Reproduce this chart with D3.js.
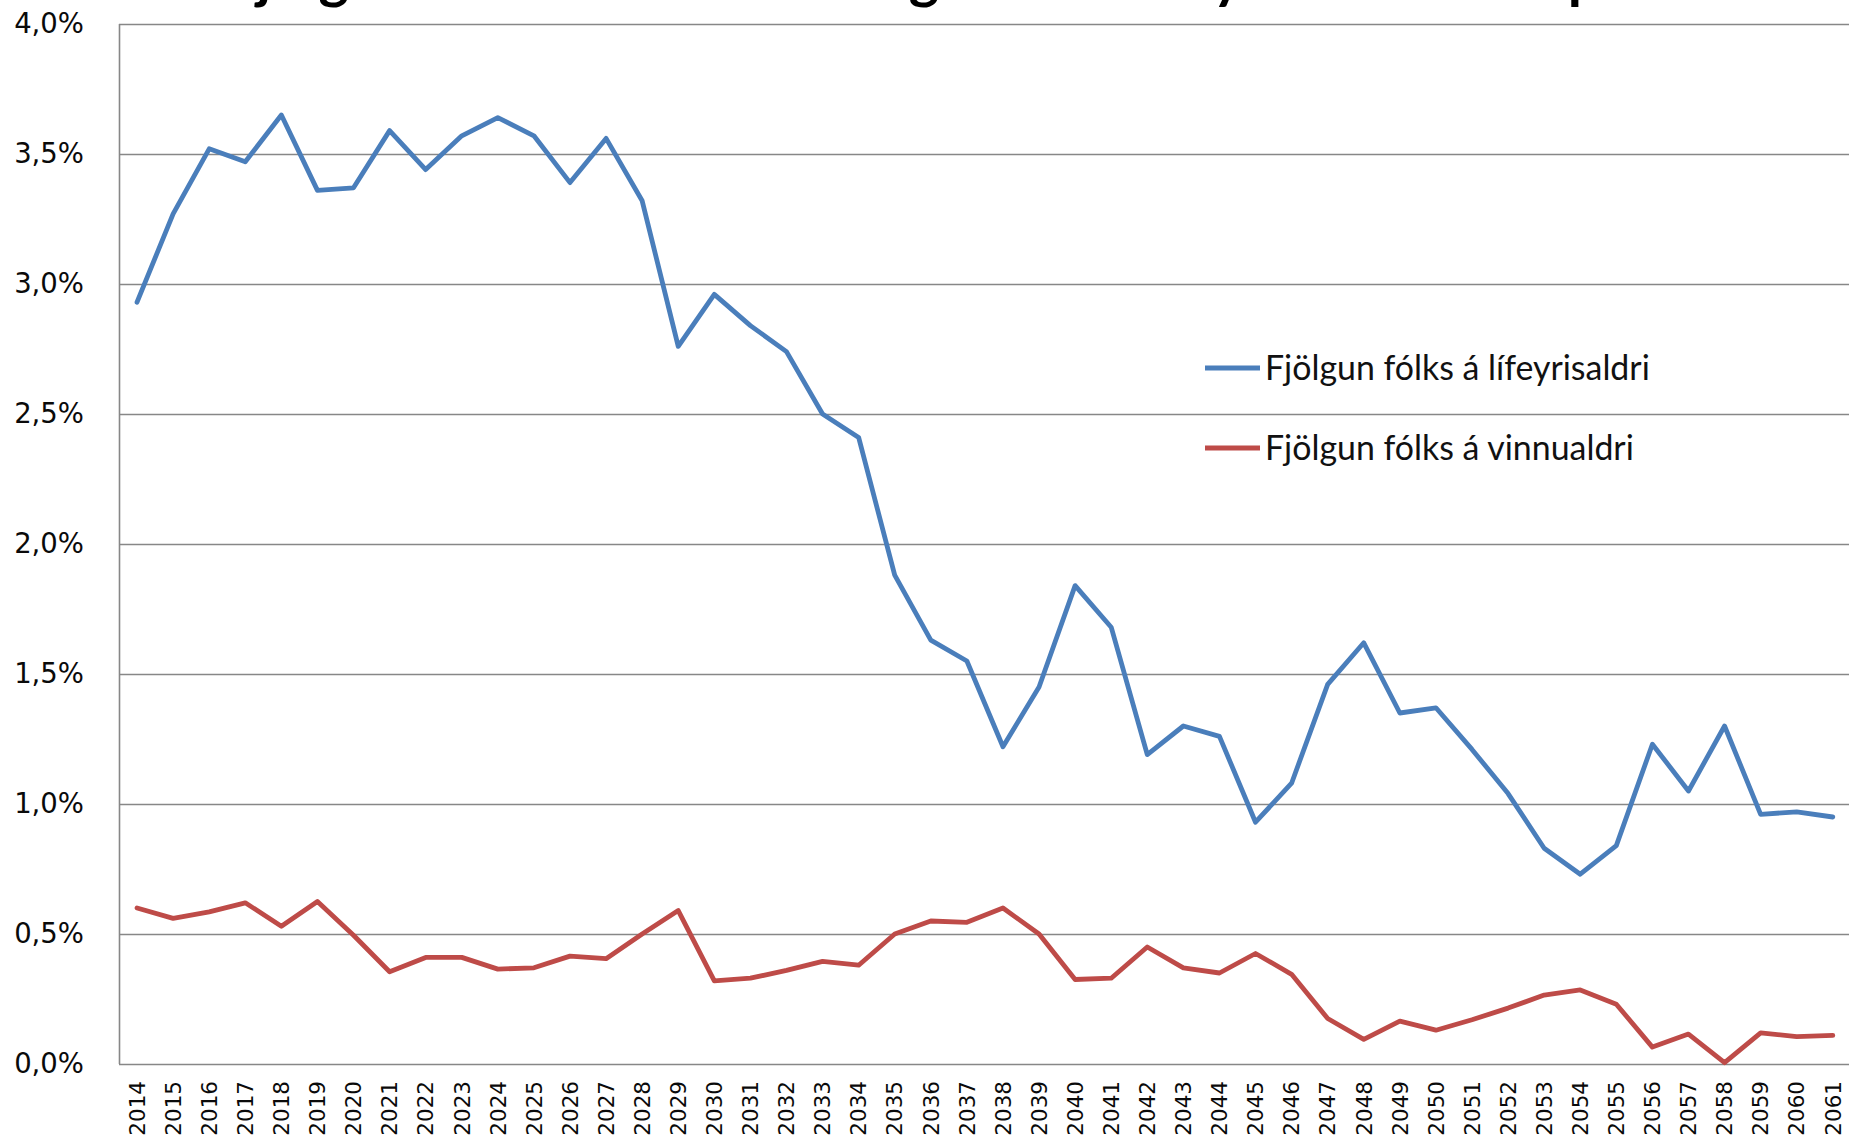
<!DOCTYPE html>
<html><head><meta charset="utf-8">
<script src="https://cdn.jsdelivr.net/npm/d3@7"></script>
<style>html,body{margin:0;padding:0;background:#fff;overflow:hidden}</style>
</head><body>
<svg id="c" width="1849" height="1140"></svg>
<script>
const years = d3.range(2014, 2062).map(String);
const pensionAge = [2.93,3.27,3.52,3.47,3.65,3.36,3.37,3.59,3.44,3.57,3.64,3.57,3.39,3.56,3.32,2.76,2.96,2.84,2.74,2.50,2.41,1.88,1.63,1.55,1.22,1.45,1.84,1.68,1.19,1.30,1.26,0.93,1.08,1.46,1.62,1.35,1.37,1.21,1.04,0.83,0.73,0.84,1.23,1.05,1.30,0.96,0.97,0.95];
const workingAge = [0.60,0.56,0.585,0.62,0.53,0.625,0.495,0.355,0.41,0.41,0.365,0.37,0.415,0.405,0.50,0.59,0.32,0.33,0.36,0.395,0.38,0.50,0.55,0.545,0.60,0.50,0.325,0.33,0.45,0.37,0.35,0.425,0.345,0.175,0.095,0.165,0.13,0.17,0.215,0.265,0.285,0.23,0.065,0.115,0.005,0.12,0.105,0.11];
const yTicks = [0,0.5,1,1.5,2,2.5,3,3.5,4];
const seriesNames = ["Fjölgun fólks á lífeyrisaldri","Fjölgun fólks á vinnualdri"];
const titleText = "Fjölgun fólks á vinnualdri og fólks á lífeyrisaldri skv. spá";

const svg = d3.select("#c");
const mLeft = 119, mTop = 24, mBottom = 1064, band = 36.08;
const x = d3.scaleBand().domain(years).range([mLeft, mLeft + band*years.length]);
const y = d3.scaleLinear().domain([0,4]).range([mBottom, mTop]);
const colors = ["#4a7ebb", "#be4b48"];

// title (cropped at top, as in the reference)
const t = svg.append("text").attr("x", 224).attr("y", -3)
  .attr("font-family", "Lato").attr("font-weight", "bold").attr("font-size", 50)
  .attr("fill", "#000").text(titleText);
const tw = t.node().getComputedTextLength();
t.attr("font-size", 50 * 1406 / tw);

// gridlines
svg.append("g").selectAll("line").data(yTicks).join("line")
  .attr("x1", mLeft).attr("x2", 1849)
  .attr("y1", d => Math.round(y(d)) + 0.5).attr("y2", d => Math.round(y(d)) + 0.5)
  .attr("stroke", "#878787").attr("stroke-width", 1.6);

// left axis
svg.append("line").attr("x1", mLeft+0.5).attr("x2", mLeft+0.5).attr("y1", mTop).attr("y2", mBottom)
  .attr("stroke", "#878787").attr("stroke-width", 1.6);

// y labels
const yAxis = d3.axisLeft(y).tickValues(yTicks).tickSize(0).tickPadding(0)
  .tickFormat(d => d.toFixed(1).replace(".", ",") + "%");
const ya = svg.append("g").attr("transform", "translate(84,0)").call(yAxis);
ya.select(".domain").remove();
ya.selectAll("text").attr("font-family", "DejaVu Sans").attr("font-size", 27.5).attr("fill", "#0a0a0a");

// x labels
svg.append("g").selectAll("text").data(years).join("text")
  .attr("transform", d => `translate(${x(d) + x.bandwidth()/2},1081) rotate(-90)`)
  .attr("text-anchor", "end").attr("dy", "0.36em")
  .attr("font-family", "DejaVu Sans").attr("font-size", 21.5).attr("fill", "#0a0a0a")
  .text(d => d);

// lines
const line = d3.line().x((d, i) => x(years[i]) + x.bandwidth()/2).y(d => y(d));
[pensionAge, workingAge].forEach((s, k) => {
  svg.append("path").datum(s).attr("d", line).attr("fill", "none")
    .attr("stroke", colors[k]).attr("stroke-width", 4.8)
    .attr("stroke-linejoin", "round").attr("stroke-linecap", "round");
});

// legend
const legY = [368, 448];
let legFS = 30;
seriesNames.forEach((n, k) => {
  svg.append("line").attr("x1", 1205).attr("x2", 1260).attr("y1", legY[k]).attr("y2", legY[k])
    .attr("stroke", colors[k]).attr("stroke-width", 4.8);
  const tx = svg.append("text").attr("x", 1265).attr("y", legY[k]).attr("dy", "0.35em")
    .attr("font-family", "Lato").attr("font-size", 30).attr("fill", "#111").text(n);
  if (k === 0) {
    const w = tx.node().getComputedTextLength();
    legFS = 30 * 385 / w;
  }
  tx.attr("font-size", legFS);
});
</script>
</body></html>
